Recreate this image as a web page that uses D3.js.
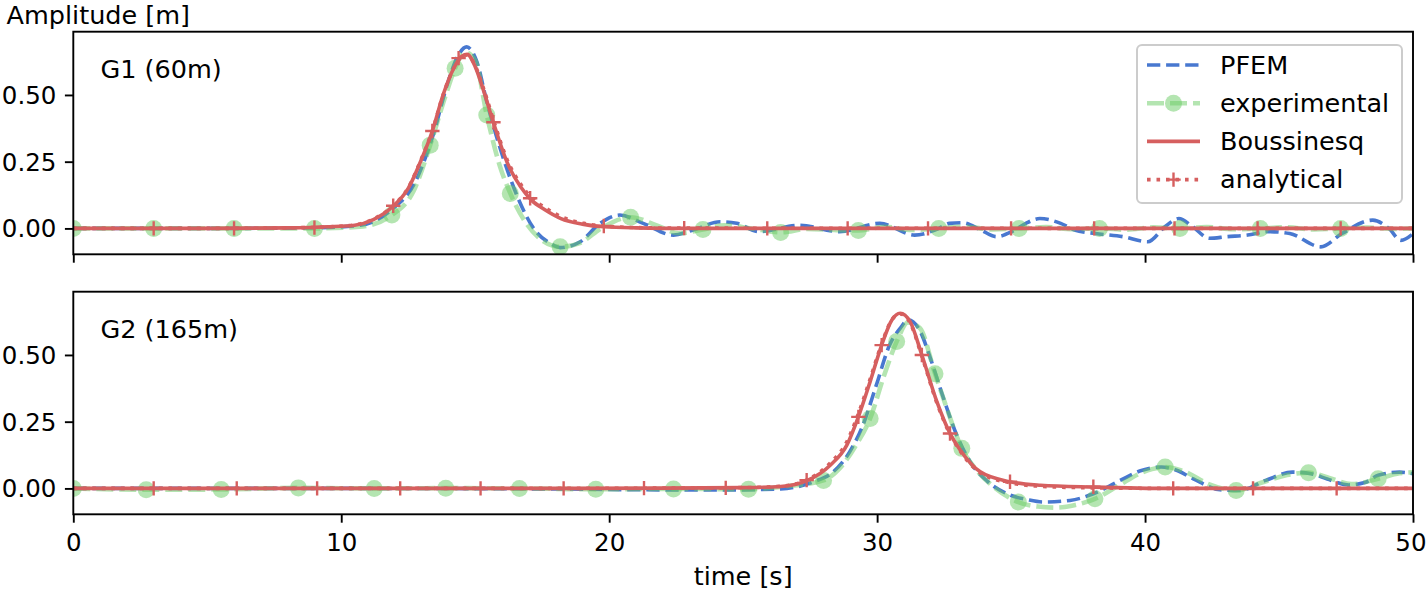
<!DOCTYPE html>
<html><head><meta charset="utf-8">
<script src="https://cdn.jsdelivr.net/npm/d3@7"></script>
<style>
body{margin:0;background:#fff}
svg text{font-family:"DejaVu Sans",sans-serif;fill:#000}
</style>
</head><body>
<svg id="chart" width="1427" height="591"></svg>
<script>
// ---------------- data ----------------
const xTicks = [0, 10, 20, 30, 40, 50];
const yTicks = [0, 0.25, 0.5];
const xDomain = [0, 50];
const yDomain = [-0.097, 0.737];
const seriesNames = ["PFEM", "experimental", "Boussinesq", "analytical"];
const panelLabels = ["G1 (60m)", "G2 (165m)"];

// G1 (60 m)
const g1PfemT = [0,5,9,10.71,11.95,12.7,13.43,13.95,14.35,14.68,15.06,15.43,15.93,16.55,17.18,17.8,18.17,18.92,19.66,20.4,21.27,22.4,23.14,24.14,24.76,25.6,27.1,28.6,30.1,31.4,32.3,32.7,33.2,33.87,34.45,35.03,35.55,36.07,36.85,37.37,38.15,39.18,40.1,40.74,41.26,41.78,42.4,43.05,43.83,44.6,45.4,46.56,47.35,48.5,49.1,49.55,50];
const g1PfemV = [0,0,0.002,0.012,0.076,0.162,0.35,0.537,0.645,0.68,0.625,0.475,0.30,0.125,0.0,-0.056,-0.072,-0.05,0.019,0.05,0.019,-0.025,-0.006,0.025,0.019,-0.012,0.012,-0.012,0.019,-0.025,0.0,0.019,0.021,-0.006,-0.031,-0.012,0.019,0.037,0.019,-0.006,-0.019,-0.031,-0.05,0.006,0.037,0.006,-0.037,-0.031,-0.025,-0.012,-0.019,-0.069,-0.019,0.031,0.0,-0.045,-0.02];

const g1ExpT = [0,3,6,9,10.7,11.89,12.7,13.32,13.9,14.25,14.62,15.0,15.43,15.9,16.31,16.9,17.5,18.17,18.9,19.7,20.8,21.8,22.6,23.5,24.3,25.3,26.4,27.4,28.4,29.3,30.3,31.3,32.3,33.3,34.3,35.3,36.3,37.3,38.3,39.3,40.3,41.3,42.3,43.3,44.3,45.3,46.3,47.3,48.3,49.3,50];
const g1ExpV = [0,0,0,0,0.006,0.05,0.14,0.312,0.5,0.6,0.66,0.63,0.425,0.24,0.131,0.02,-0.045,-0.069,-0.055,0.0,0.042,0.01,-0.018,-0.004,0.012,0.0,-0.015,-0.002,-0.006,-0.008,0.006,-0.006,0.0,0.006,-0.004,0.0,0.005,-0.003,0.0,-0.005,0.004,0.0,0.005,-0.003,0.0,0.004,-0.004,0.0,0.003,-0.002,0];
const g1ExpMarkT = [0,3,6,9,11.89,13.32,14.25,15.43,16.31,18.17,20.8,23.5,26.4,29.3,32.3,35.3,38.3,41.3,44.3,47.3];
const g1ExpMarkV = [0,0,0,0,0.05,0.312,0.6,0.425,0.131,-0.069,0.042,-0.004,-0.015,-0.008,0,0,0,0,0,0];

const g1BousT = [0,5,8,9.5,10.5,11.2,11.9,12.5,13.0,13.4,13.8,14.2,14.5,14.7,15.0,15.3,15.7,16.2,16.7,17.1,17.6,18.2,19.0,19.8,21,23,50];
const g1BousV = [0,0,0.002,0.006,0.012,0.033,0.08,0.15,0.26,0.365,0.50,0.6,0.645,0.652,0.606,0.52,0.39,0.245,0.155,0.106,0.07,0.037,0.016,0.006,0.002,0,0];
const g1AnaV  = [0,0,0.002,0.006,0.013,0.035,0.082,0.153,0.263,0.366,0.50,0.6,0.643,0.65,0.61,0.528,0.40,0.255,0.165,0.115,0.078,0.044,0.02,0.009,0.003,0.001,0];
const g1AnaMarkT = [3,6,9,11.94,13.4,14.38,15.68,17.05,19.8,22.8,25.9,28.9,31.9,35.0,38.1,41.1,44.2,47.3];
const g1AnaMarkV = [0,0,0.003,0.085,0.365,0.638,0.398,0.113,0.009,0.001,0,0,0,0,0,0,0,0];

// G2 (165 m)
const g2PfemT = [0,10,18,21,24,26.4,27.6,28.35,28.97,29.47,29.97,30.47,30.86,31.17,31.6,31.98,32.47,32.97,33.47,34.1,34.96,35.6,36.2,37.2,38.07,39.07,39.8,40.6,41.2,41.8,42.8,43.5,44.5,45.5,46.2,46.8,47.6,48.2,48.7,49.5,50];
const g2PfemV = [0,0,-0.002,-0.005,-0.006,-0.002,0.024,0.061,0.136,0.237,0.387,0.538,0.60,0.632,0.59,0.49,0.34,0.20,0.10,0.028,-0.025,-0.042,-0.051,-0.045,-0.02,0.03,0.065,0.08,0.067,0.036,-0.005,-0.008,0.03,0.061,0.055,0.035,0.013,0.022,0.049,0.061,0.055];

const g2ExpT = [0,2.72,5.52,8.4,11.23,13.9,16.65,19.5,22.4,25.2,26.6,28.0,28.6,29.2,29.74,30.25,30.73,31.15,31.6,32.16,32.6,33.16,33.7,34.3,35.27,36.0,36.7,37.4,38.13,39.0,39.9,40.75,41.5,42.4,43.4,44.3,45.3,46.1,46.9,47.7,48.7,49.5,50];
const g2ExpV = [0,-0.005,-0.004,0.002,0.0,0.001,0.0,-0.003,-0.002,-0.003,0.008,0.03,0.075,0.16,0.262,0.42,0.55,0.622,0.6,0.43,0.3,0.15,0.07,0.01,-0.051,-0.068,-0.072,-0.062,-0.039,0.01,0.06,0.08,0.062,0.015,-0.008,0.02,0.05,0.059,0.038,0.016,0.036,0.057,0.06];
const g2ExpMarkT = [0,2.72,5.52,8.4,11.23,13.9,16.65,19.5,22.4,25.2,28.0,29.74,30.73,32.16,33.16,35.27,38.13,40.75,43.4,46.1,48.7];
const g2ExpMarkV = [0,-0.005,-0.004,0.002,0.0,0.001,0.0,-0.003,-0.002,-0.003,0.03,0.262,0.55,0.43,0.15,-0.051,-0.039,0.08,-0.008,0.059,0.036];

const g2BousT = [0,15,22,25,26.4,27.4,28.25,28.87,29.3,29.74,30.17,30.55,30.86,31.23,31.67,32.23,32.72,33.1,33.85,34.96,36.1,38.1,41,44,47,50];
const g2BousV = [0,0,0.001,0.003,0.007,0.03,0.087,0.162,0.268,0.40,0.537,0.631,0.656,0.625,0.50,0.325,0.206,0.144,0.062,0.025,0.012,0.005,0.0,0.0,0.0,0.0];
const g2AnaV  = [0,0,0.001,0.003,0.008,0.033,0.095,0.175,0.28,0.41,0.542,0.632,0.654,0.62,0.495,0.32,0.203,0.14,0.058,0.021,0.008,0.002,0.0,0.0,0.0,0.0];
const g2AnaMarkT = [3.0,6.1,9.1,12.2,15.2,18.3,21.3,24.35,27.37,29.3,30.17,31.67,32.72,34.96,38.07,41.05,44.03,47.15];
const g2AnaMarkV = [0,0,0,0,0,0,0.001,0.002,0.031,0.268,0.537,0.50,0.206,0.025,0.006,0.0,0.0,0.0];

// ---------------- styles ----------------
const C_BLUE = "#4878d0", C_GREEN = "#6acc64", C_RED = "#d65f5f";
const FS = 25.5;      // labels, legend
const FS_TICK = 24.5; // tick labels

const svg = d3.select("#chart");
const x = d3.scaleLinear().domain(xDomain).range([73.3, 1413]);

const panels = [
  {label: panelLabels[0], top: 31.7, bottom: 254.3, showX: false,
   pfem: d3.zip(g1PfemT, g1PfemV), exp: d3.zip(g1ExpT, g1ExpV), expM: d3.zip(g1ExpMarkT, g1ExpMarkV),
   bous: d3.zip(g1BousT, g1BousV), ana: d3.zip(g1BousT, g1AnaV), anaM: d3.zip(g1AnaMarkT, g1AnaMarkV)},
  {label: panelLabels[1], top: 291.7, bottom: 514.3, showX: true,
   pfem: d3.zip(g2PfemT, g2PfemV), exp: d3.zip(g2ExpT, g2ExpV), expM: d3.zip(g2ExpMarkT, g2ExpMarkV),
   bous: d3.zip(g2BousT, g2BousV), ana: d3.zip(g2BousT, g2AnaV), anaM: d3.zip(g2AnaMarkT, g2AnaMarkV)}
];

const plusPath = "M-7.2,0H7.2M0,-7.2V7.2";

panels.forEach((p, i) => {
  const y = d3.scaleLinear().domain(yDomain).range([p.bottom, p.top]);
  const g = svg.append("g");
  const cid = "clip" + i;
  svg.append("clipPath").attr("id", cid).append("rect")
    .attr("x", x.range()[0]).attr("y", p.top)
    .attr("width", x.range()[1] - x.range()[0]).attr("height", p.bottom - p.top);

  const line = d3.line().x(d => x(d[0])).y(d => y(d[1])).curve(d3.curveMonotoneX);
  const data = g.append("g").attr("clip-path", `url(#${cid})`);

  data.append("path").datum(p.pfem).attr("d", line)
    .attr("fill", "none").attr("stroke", C_BLUE).attr("stroke-width", 3.6)
    .attr("stroke-dasharray", "13.3,5.8");

  data.append("path").datum(p.exp).attr("d", line)
    .attr("fill", "none").attr("stroke", C_GREEN).attr("stroke-opacity", 0.5)
    .attr("stroke-width", 4.6).attr("stroke-dasharray", "17,6");
  data.append("g").selectAll("circle").data(p.expM).join("circle")
    .attr("cx", d => x(d[0])).attr("cy", d => y(d[1])).attr("r", 8.5)
    .attr("fill", C_GREEN).attr("fill-opacity", 0.5);

  data.append("path").datum(p.bous).attr("d", line)
    .attr("fill", "none").attr("stroke", C_RED).attr("stroke-width", 3.6);

  data.append("path").datum(p.ana).attr("d", line)
    .attr("fill", "none").attr("stroke", C_RED).attr("stroke-width", 3.6)
    .attr("stroke-dasharray", "3.6,5.9");
  data.append("g").selectAll("path").data(p.anaM).join("path")
    .attr("transform", d => `translate(${x(d[0])},${y(d[1])})`)
    .attr("d", plusPath).attr("stroke", C_RED).attr("stroke-width", 2.4).attr("fill", "none");

  // axes
  const ay = g.append("g").attr("transform", `translate(${x.range()[0]},0)`)
    .call(d3.axisLeft(y).tickValues(yTicks).tickFormat(d3.format(".2f"))
      .tickSize(8.4).tickSizeOuter(0).tickPadding(8.5));
  const ax = g.append("g").attr("transform", `translate(0,${p.bottom})`)
    .call(d3.axisBottom(x).tickValues(xTicks).tickFormat(p.showX ? d3.format("d") : () => "")
      .tickSize(8.4).tickSizeOuter(0).tickPadding(10.5));
  [ay, ax].forEach(a => {
    a.select(".domain").remove();
    a.selectAll(".tick line").attr("stroke", "#000").attr("stroke-width", 1.9);
    a.selectAll(".tick text").attr("font-size", FS_TICK).attr("font-family", "DejaVu Sans").attr("fill", "#000");
  });
  ay.selectAll(".tick text").attr("dy", "0.35em");
  // keep the last x label inside the picture
  ax.selectAll(".tick text").filter(d => d === xDomain[1]).attr("text-anchor", "end").attr("x", 13);

  // frame
  g.append("rect").attr("x", x.range()[0]).attr("y", p.top)
    .attr("width", x.range()[1] - x.range()[0]).attr("height", p.bottom - p.top)
    .attr("fill", "none").attr("stroke", "#000").attr("stroke-width", 1.9);

  g.append("text").attr("x", 100.5).attr("y", p.top + 46.5)
    .attr("font-size", FS).text(p.label);
});

// axis titles
svg.append("text").attr("x", 6.5).attr("y", 23.8).attr("font-size", FS).text("Amplitude [m]");
svg.append("text").attr("x", (x.range()[0] + x.range()[1]) / 2).attr("y", 585)
  .attr("text-anchor", "middle").attr("font-size", FS).text("time [s]");

// legend
const lg = svg.append("g");
lg.append("rect").attr("x", 1137).attr("y", 45).attr("width", 265).attr("height", 158)
  .attr("rx", 5).attr("fill", "#fff").attr("fill-opacity", 0.8)
  .attr("stroke", "#cccccc").attr("stroke-width", 2);
seriesNames.forEach((name, i) => {
  const yy = 65 + i * 38.2;
  const row = lg.append("g");
  const x0 = 1147, x1 = 1200, xm = (x0 + x1) / 2;
  if (i === 0) {
    row.append("line").attr("x1", x0).attr("x2", x1).attr("y1", yy).attr("y2", yy)
      .attr("stroke", C_BLUE).attr("stroke-width", 3.6).attr("stroke-dasharray", "13.3,5.8");
  } else if (i === 1) {
    row.append("line").attr("x1", x0).attr("x2", x1).attr("y1", yy).attr("y2", yy)
      .attr("stroke", C_GREEN).attr("stroke-opacity", 0.5).attr("stroke-width", 4.6).attr("stroke-dasharray", "17,6");
    row.append("circle").attr("cx", xm).attr("cy", yy).attr("r", 8.5)
      .attr("fill", C_GREEN).attr("fill-opacity", 0.5);
  } else if (i === 2) {
    row.append("line").attr("x1", x0).attr("x2", x1).attr("y1", yy).attr("y2", yy)
      .attr("stroke", C_RED).attr("stroke-width", 3.6);
  } else {
    row.append("line").attr("x1", x0).attr("x2", x1).attr("y1", yy).attr("y2", yy)
      .attr("stroke", C_RED).attr("stroke-width", 3.6).attr("stroke-dasharray", "3.6,5.9");
    row.append("path").attr("transform", `translate(${xm},${yy})`).attr("d", plusPath)
      .attr("stroke", C_RED).attr("stroke-width", 2.4).attr("fill", "none");
  }
  row.append("text").attr("x", 1220).attr("y", yy + 8.8).attr("font-size", FS).text(name);
});
</script>
</body></html>
